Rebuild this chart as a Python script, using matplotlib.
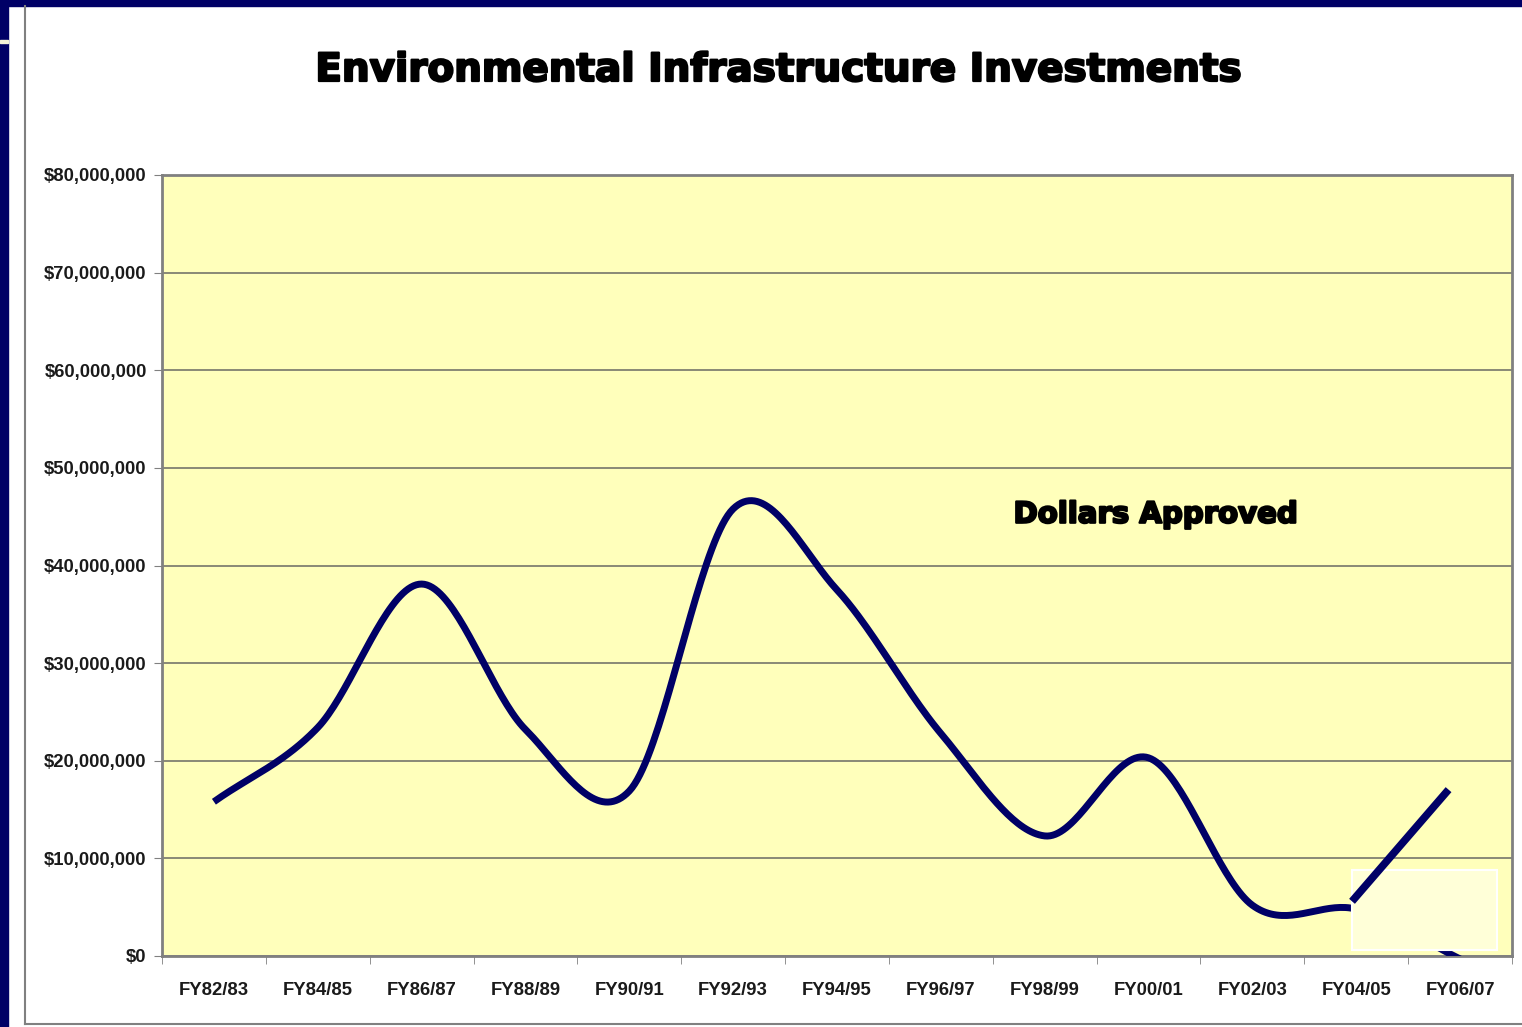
import numpy as np
import matplotlib
matplotlib.use("Agg")
import matplotlib.pyplot as plt
import matplotlib.patheffects as pe
from matplotlib.patches import Rectangle
from matplotlib.lines import Line2D
from matplotlib.ticker import FuncFormatter, MultipleLocator

years = ["FY82/83", "FY84/85", "FY86/87", "FY88/89", "FY90/91", "FY92/93",
         "FY94/95", "FY96/97", "FY98/99", "FY00/01", "FY02/03", "FY04/05",
         "FY06/07"]
dollars = [15.8e6, 23.4e6, 38.1e6, 23.2e6, 16.9e6, 45.8e6, 37.5e6,
           22.8e6, 12.3e6, 20.3e6, 5.2e6, 4.8e6, -0.3e6]

navy = "#000066"
label_font = ["Liberation Sans Narrow", "Liberation Sans", "DejaVu Sans"]


def smooth(x, y, n=40):
    # Catmull-Rom spline through the points, like Excel's smoothed line
    x = np.asarray(x, float)
    y = np.asarray(y, float)
    px = np.concatenate([[2 * x[0] - x[1]], x, [2 * x[-1] - x[-2]]])
    py = np.concatenate([[2 * y[0] - y[1]], y, [2 * y[-1] - y[-2]]])
    xs, ys = [], []
    t = np.linspace(0, 1, n)
    for i in range(1, len(px) - 2):
        for p, out in ((px, xs), (py, ys)):
            p0, p1, p2, p3 = p[i - 1], p[i], p[i + 1], p[i + 2]
            b1 = p1 + (p2 - p0) / 6
            b2 = p2 - (p3 - p1) / 6
            out.extend((1 - t) ** 3 * p1 + 3 * (1 - t) ** 2 * t * b1
                       + 3 * (1 - t) * t ** 2 * b2 + t ** 3 * p2)
    return np.array(xs), np.array(ys)


fig = plt.figure(figsize=(15.22, 10.27), dpi=100)
W, H = 1522, 1027

# slide frame
fig.patches.append(Rectangle((0, 1 - 6 / H), 1, 6 / H, transform=fig.transFigure,
                             color=navy, zorder=0))
fig.patches.append(Rectangle((0, 0), 8 / W, 1, transform=fig.transFigure,
                             color=navy, zorder=0))
fig.patches.append(Rectangle((0, 1 - 43 / H), 8 / W, 3 / H, transform=fig.transFigure,
                             color="#f4f2d8", zorder=1))
fig.lines.append(Line2D([25 / W, 25 / W], [3 / H, 1 - 6 / H], transform=fig.transFigure,
                        color="#808080", lw=1.5))
fig.lines.append(Line2D([25 / W, 1], [3 / H, 3 / H], transform=fig.transFigure,
                        color="#808080", lw=1.5))

ax = fig.add_axes([162 / W, 1 - 956 / H, 1350 / W, 781 / H])
ax.set_facecolor("#FFFFBB")

x = np.arange(len(years))
sx, sy = smooth(x, dollars)
ax.plot(sx, sy, color=navy, lw=5, solid_capstyle="butt", zorder=3)

ax.set_xlim(-0.5, len(years) - 0.5)
ax.set_ylim(0, 80e6)
ax.yaxis.set_major_locator(MultipleLocator(10e6))
ax.yaxis.set_major_formatter(FuncFormatter(lambda v, p: f"${v:,.0f}"))
ax.grid(axis="y", color="#76766a", lw=1.2)
ax.set_axisbelow(True)

ax.set_xticks(x)
ax.set_xticklabels(years)
ax.set_xticks(np.arange(len(years) + 1) - 0.5, minor=True)
ax.tick_params(axis="x", which="major", length=0, pad=19)
ax.tick_params(axis="x", which="minor", length=6, color="#808080")
ax.tick_params(axis="y", length=6, color="#808080", pad=5)
for lab in ax.get_xticklabels() + ax.get_yticklabels():
    lab.set_family(label_font)
    lab.set_fontsize(13.3)
    lab.set_fontweight("bold")
    lab.set_color("#1a1a1a")
for s in ax.spines.values():
    s.set_color("#808080")
    s.set_linewidth(2)

heavy = [pe.withStroke(linewidth=1.6, foreground="black")]
ax.text(0.736, 0.565, "Dollars Approved", transform=ax.transAxes, ha="center",
        va="center", fontsize=21, fontweight="bold", family="DejaVu Sans",
        path_effects=heavy)

fig.text(0.511, 1 - 70 / H, "Environmental Infrastructure Investments",
         ha="center", va="center", fontsize=28, fontweight="bold",
         family="DejaVu Sans", path_effects=heavy)

# pasted-on box and arrow stroke in the lower right corner
ax.add_patch(Rectangle((0.8815, 0.008), 0.1074, 0.1024, transform=ax.transAxes,
                       facecolor="#FFFFD8", edgecolor="white", lw=1.5, zorder=4))
ax.plot([0.8815, 0.953], [0.07, 0.213], transform=ax.transAxes, color=navy,
        lw=5.5, zorder=5, solid_capstyle="butt")

fig.savefig("out.png", dpi=100)
